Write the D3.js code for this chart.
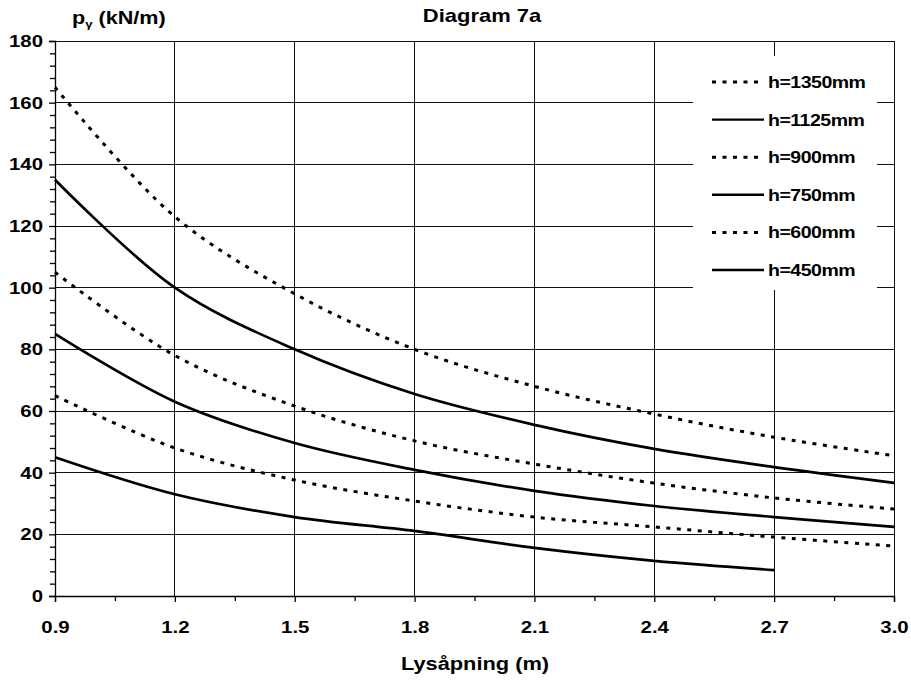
<!DOCTYPE html>
<html><head><meta charset="utf-8">
<script src="https://cdn.jsdelivr.net/npm/d3@7"></script>
<style>
body{margin:0;background:#fff;}
text{font-family:"Liberation Sans",Arial,sans-serif;font-weight:bold;fill:#000;}
</style></head>
<body><svg id="c" width="911" height="681"></svg>
<script>
const xValues = [0.9, 1.2, 1.5, 1.8, 2.1, 2.4, 2.7, 3.0];
const xTickLabels = ["0.9","1.2","1.5","1.8","2.1","2.4","2.7","3.0"];
const yTicks = [0,20,40,60,80,100,120,140,160,180];
const seriesNames = ["h=1350mm","h=1125mm","h=900mm","h=750mm","h=600mm","h=450mm"];
const h1350 = [165, 123, 98, 80, 68, 59, 51.5, 45.5];
const h1125 = [135, 100, 80, 65.5, 55.5, 47.7, 41.8, 36.7];
const h900  = [105, 78, 61.6, 50.3, 42.8, 36.6, 31.8, 28.2];
const h750  = [85, 63, 49.6, 40.9, 34.1, 29.2, 25.6, 22.4];
const h600  = [65, 48, 37.6, 30.8, 25.6, 22.4, 19.1, 16.2];
const h450  = [45, 33, 25.6, 21.1, 15.6, 11.4, 8.4];
const seriesValues = [h1350, h1125, h900, h750, h600, h450];
const dotted = [true,false,true,false,true,false];

const svg = d3.select("#c");
const x = d3.scaleLinear().domain([0.9,3.0]).range([55,894]);
const y = d3.scaleLinear().domain([0,180]).range([596,41]);
const SX = 1.2; // horizontal stretch of the reference lettering

// gridlines
const grid = svg.append("g").attr("stroke","#111").attr("stroke-width",1).attr("shape-rendering","crispEdges");
xValues.forEach(v=>grid.append("line").attr("x1",x(v)).attr("x2",x(v)).attr("y1",y(0)).attr("y2",y(180)));
yTicks.forEach(v=>grid.append("line").attr("x1",x(0.9)).attr("x2",x(3.0)).attr("y1",y(v)).attr("y2",y(v)));

// minor ticks
const minorX = d3.range(0,7).map(i=>xValues[i]+0.15);
svg.append("g").attr("transform",`translate(0,${y(0)})`)
  .call(d3.axisBottom(x).tickValues(minorX).tickSize(5).tickFormat(""))
  .call(g=>g.select(".domain").remove());
const minorY = d3.range(0,181,4).filter(v=>v%20!==0);
svg.append("g").attr("transform",`translate(${x(0.9)},0)`)
  .call(d3.axisLeft(y).tickValues(minorY).tickSize(5).tickFormat(""))
  .call(g=>g.select(".domain").remove());

// axes
const xa = svg.append("g").attr("transform",`translate(0,${y(0)})`)
  .call(d3.axisBottom(x).tickValues(xValues).tickSize(6).tickPadding(19).tickFormat((d,i)=>xTickLabels[i]));
xa.selectAll("text").attr("font-size",17).attr("transform",`scale(${SX},1)`)
  .style("font-family",'"Liberation Sans",Arial,sans-serif').attr("font-weight","bold");
const ya = svg.append("g").attr("transform",`translate(${x(0.9)},0)`)
  .call(d3.axisLeft(y).tickValues(yTicks).tickSize(6).tickPadding(4));
ya.selectAll("text").attr("font-size",17).attr("transform",`scale(${SX},1)`)
  .style("font-family",'"Liberation Sans",Arial,sans-serif').attr("font-weight","bold");
svg.selectAll(".domain,.tick line").attr("stroke","#000").attr("stroke-width",1.3);

// lines
const line = d3.line().x((d,i)=>x(xValues[i])).y(d=>y(d)).curve(d3.curveCatmullRom.alpha(0.5));
seriesValues.forEach((vals,k)=>{
  svg.append("path").datum(vals).attr("d",line).attr("fill","none")
    .attr("stroke","#000").attr("stroke-width",dotted[k]?3:2.7)
    .attr("stroke-dasharray",dotted[k]?"4,6.5":null);
});

// legend
const lg = svg.append("g");
lg.append("rect").attr("x",693).attr("y",56).attr("width",184).attr("height",234).attr("fill","#fff");
seriesNames.forEach((n,k)=>{
  const yy = 82 + k*37.6;
  lg.append("line").attr("x1",712).attr("x2",764).attr("y1",yy).attr("y2",yy)
    .attr("stroke","#000").attr("stroke-width",dotted[k]?3:2.4).attr("stroke-dasharray",dotted[k]?"4,6.5":null);
  lg.append("text").attr("transform",`translate(768,${yy+6}) scale(1.22,1)`).attr("font-size",16)
    .attr("letter-spacing","-0.4").text(n);
});

// titles
svg.append("text").attr("transform",`translate(482,22) scale(1.22,1)`).attr("text-anchor","middle").attr("font-size",18).text("Diagram 7a");
const yl = svg.append("text").attr("transform",`translate(72,24) scale(${SX},1)`).attr("font-size",18);
yl.append("tspan").text("p");
yl.append("tspan").attr("dy",4).attr("font-size",11).text("γ");
yl.append("tspan").attr("dy",-4).text(" (kN/m)");
svg.append("text").attr("transform",`translate(475,670) scale(1.18,1)`).attr("text-anchor","middle").attr("font-size",18.5).text("Lysåpning (m)");
</script></body></html>
